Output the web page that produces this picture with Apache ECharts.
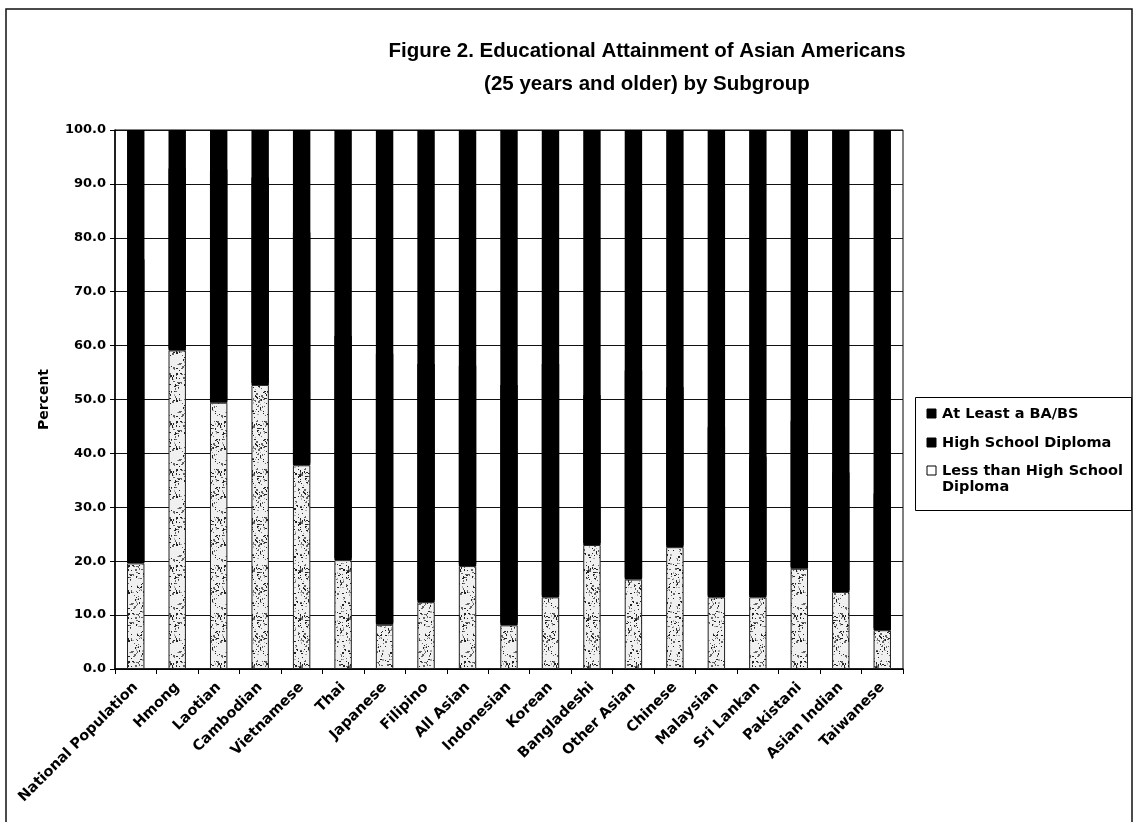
<!DOCTYPE html>
<html>
<head>
<meta charset="utf-8">
<script src="https://cdn.jsdelivr.net/npm/echarts@6/dist/echarts.min.js"></script>
<style>
  html, body { margin: 0; padding: 0; background: #fff; }
  #chart { width: 1138px; height: 822px; }
</style>
</head>
<body>
<div id="chart"></div>
<script>
// Subgroups, in plotted order
const subgroups = [
  'National Population', 'Hmong', 'Laotian', 'Cambodian', 'Vietnamese', 'Thai',
  'Japanese', 'Filipino', 'All Asian', 'Indonesian', 'Korean', 'Bangladeshi',
  'Other Asian', 'Chinese', 'Malaysian', 'Sri Lankan', 'Pakistani', 'Asian Indian',
  'Taiwanese'
];

// Percent of adults 25+ by highest attainment
const lessThanHighSchool = [19.6, 59.1, 49.4, 52.7, 37.8, 20.2, 8.2, 12.4, 19.1, 8.1, 13.3, 23.0, 16.6, 22.6, 13.3, 13.3, 18.6, 14.3, 7.2];
const highSchoolDiploma  = [56.0, 33.4, 42.9, 38.1, 42.8, 41.2, 49.9, 43.8, 36.8, 44.2, 42.9, 27.4, 38.4, 29.3, 31.2, 25.7, 27.1, 21.8, 25.0];
const atLeastBachelors   = [24.4, 7.5, 7.7, 9.2, 19.4, 38.6, 41.9, 43.8, 44.1, 47.7, 43.8, 49.6, 45.0, 48.1, 55.5, 61.0, 54.3, 63.9, 67.8];

const seriesNames = ['Less than High School\nDiploma', 'High School Diploma', 'At Least a BA/BS'];

const FONT = 'DejaVu Sans';

// Stippled fill tile for the lowest segment (fixed hash, so every render is identical)
function stippleTile() {
  const size = 48;
  const c = document.createElement('canvas');
  c.width = size; c.height = size;
  const g = c.getContext('2d');
  g.fillStyle = '#f0f0f0';
  g.fillRect(0, 0, size, size);
  let h = 2166136261;
  const next = () => { h ^= h << 13; h ^= h >>> 17; h ^= h << 5; return (h >>> 0) / 4294967296; };
  for (let i = 0; i < 260; i++) {
    const x = Math.floor(next() * size);
    const y = Math.floor(next() * size);
    const shade = next();
    g.fillStyle = shade < 0.45 ? '#222' : (shade < 0.8 ? '#666' : '#aaa');
    const w = next() < 0.3 ? 2 : 1;
    g.fillRect(x, y, w, next() < 0.3 ? 2 : 1);
  }
  return c;
}
const stipple = stippleTile();

const chart = echarts.init(document.getElementById('chart'), null, { renderer: 'canvas' });

// Legend entries, listed top to bottom (reverse of stacking)
const legendRows = [
  { name: seriesNames[2], y: 414, fill: '#000', stroke: '#000' },
  { name: seriesNames[1], y: 443, fill: '#000', stroke: '#000' },
  { name: seriesNames[0], y: 471, fill: '#fff', stroke: '#000' }
];
const legendGraphics = [
  { type: 'rect', left: 915, top: 397, shape: { width: 216, height: 113 },
    style: { fill: '#fff', stroke: '#000', lineWidth: 1 } }
];
legendRows.forEach(r => {
  legendGraphics.push({ type: 'rect', shape: { x: 927, y: r.y - 5, width: 9, height: 9 },
    style: { fill: r.fill, stroke: r.stroke, lineWidth: 1 } });
  legendGraphics.push({ type: 'text', x: 942, y: r.y - 8,
    style: { text: r.name, fill: '#000', font: 'bold 14.5px "' + FONT + '"', lineHeight: 16, verticalAlign: 'top' } });
});

const option = {
  backgroundColor: '#fff',
  animation: false,
  title: {
    text: 'Figure 2. Educational Attainment of Asian Americans\n(25 years and older) by Subgroup',
    left: 642,
    top: 30,
    textAlign: 'center',
    textStyle: { fontFamily: 'Liberation Sans', fontWeight: 'bold', fontSize: 20.5, lineHeight: 33, color: '#000' }
  },
  grid: { left: 115, right: 235, top: 130, bottom: 153, show: true, borderColor: '#000', borderWidth: 1 },
  xAxis: {
    type: 'category',
    data: subgroups,
    axisLine: { lineStyle: { color: '#000', width: 1.5 } },
    axisTick: { show: true, length: 5, lineStyle: { color: '#000' } },
    axisLabel: { rotate: 45, margin: 16, color: '#000', fontFamily: FONT, fontWeight: 'bold', fontSize: 14.5, interval: 0 }
  },
  yAxis: {
    type: 'value',
    min: 0, max: 100, interval: 10,
    name: 'Percent',
    nameLocation: 'middle',
    nameGap: 64,
    nameRotate: 90,
    nameTextStyle: { color: '#000', fontFamily: FONT, fontWeight: 'bold', fontSize: 14 },
    axisLine: { show: true, lineStyle: { color: '#000', width: 1.5 } },
    axisTick: { show: true, length: 5, lineStyle: { color: '#000' } },
    axisLabel: { margin: 9, color: '#000', fontFamily: FONT, fontWeight: 'bold', fontSize: 13,
      formatter: v => v.toFixed(1) },
    splitLine: { show: true, lineStyle: { color: '#111', width: 1.2 } }
  },
  series: [
    { name: seriesNames[0], type: 'bar', stack: 'edu', barWidth: '42%', data: lessThanHighSchool,
      itemStyle: { color: { image: stipple, repeat: 'repeat' }, borderColor: '#222', borderWidth: 1 } },
    // the upward black shadow closes the hairline where the two solid segments meet
    { name: seriesNames[1], type: 'bar', stack: 'edu', barWidth: '42%', data: highSchoolDiploma,
      itemStyle: { color: '#000', shadowColor: '#000', shadowBlur: 0, shadowOffsetY: -2 } },
    { name: seriesNames[2], type: 'bar', stack: 'edu', barWidth: '42%', data: atLeastBachelors,
      itemStyle: { color: '#000' } }
  ],
  graphic: [
    { type: 'rect', shape: { x: 6, y: 9, width: 1126, height: 900 },
      style: { fill: 'none', stroke: '#111', lineWidth: 1.5 }, z: 100 }
  ].concat(legendGraphics)
};

chart.setOption(option);
</script>
</body>
</html>
